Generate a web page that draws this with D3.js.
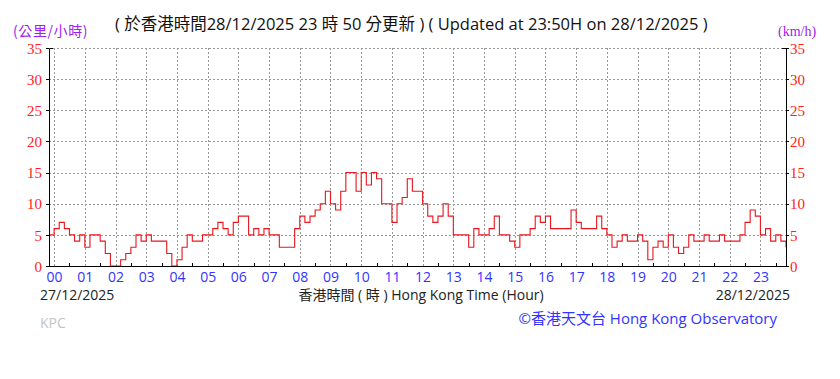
<!DOCTYPE html>
<html>
<head>
<meta charset="utf-8">
<script src="https://cdn.jsdelivr.net/npm/d3@7"></script>
<style>
  body { margin: 0; background: #fff; }
  svg { display: block; }
  .grid line { stroke: #999; stroke-dasharray: 2,2; shape-rendering: crispEdges; }
  .axis path, .axis line { stroke: #000; shape-rendering: crispEdges; }
  .yaxis text { fill: #ff2020; font-family: "Liberation Serif", serif; font-size: 15px; }
  .xaxis text { fill: #3333ff; font-family: "Open Sans", "Noto Sans", sans-serif; font-size: 14px; }
</style>
</head>
<body>
<div id="chart"></div>
<script>
// 10-minute mean wind speed (km/h), from 23:50 on 27/12 to 23:50 on 28/12
var windSpeed = [
  5, 6, 7, 6, 5, 4, 5, 3, 5, 5,
  4, 2, 0, 0, 1, 2, 3, 5, 4, 5,
  4, 4, 4, 2, 0, 1, 3, 5, 4, 4,
  5, 5, 6, 7, 6, 5, 7, 8, 8, 5,
  6, 5, 6, 5, 5, 3, 3, 3, 6, 8,
  7, 8, 9, 10, 12, 10, 9, 12, 15, 15,
  12, 15, 13, 15, 14, 10, 10, 7, 10, 11,
  14, 12, 12, 10, 8, 7, 8, 10, 8, 5,
  5, 5, 3, 6, 5, 5, 6, 8, 5, 5,
  4, 3, 5, 5, 6, 8, 7, 8, 6, 6,
  6, 6, 9, 7, 6, 6, 6, 8, 6, 5,
  3, 4, 5, 4, 4, 5, 4, 1, 3, 4,
  3, 5, 3, 2, 3, 5, 4, 4, 5, 4,
  4, 5, 4, 4, 4, 5, 7, 9, 8, 5,
  6, 4, 5, 4, 3
];
var hourLabels = ['00','01','02','03','04','05','06','07','08','09','10','11',
                  '12','13','14','15','16','17','18','19','20','21','22','23'];
var speedTicks = [0, 5, 10, 15, 20, 25, 30, 35];

var _width = 840, _height = 379;
var _plot = {left: 49, right: 786, top: 48, bottom: 266};

// minutes since 00:00 on 28/12, first reading at 23:50 the day before
var minutes = windSpeed.map(function (d, i) { return -10 + i * 10; });

var _x = d3.scaleLinear().domain([-10, 1430]).range([_plot.left, _plot.right]);
var _y = d3.scaleLinear().domain([0, 35]).range([_plot.bottom, _plot.top]);

var svg = d3.select('#chart').append('svg')
  .attr('width', _width)
  .attr('height', _height);

// gridlines
var grid = svg.append('g').attr('class', 'grid');
grid.selectAll('line.h')
  .data(speedTicks.slice(1))
  .enter().append('line')
    .attr('class', 'h')
    .attr('x1', _plot.left).attr('x2', _plot.right)
    .attr('y1', function (d) { return Math.round(_y(d)) + 0.5; })
    .attr('y2', function (d) { return Math.round(_y(d)) + 0.5; });
grid.selectAll('line.v')
  .data(hourLabels)
  .enter().append('line')
    .attr('class', 'v')
    .attr('x1', function (d, i) { return Math.round(_x(i * 60)) + 0.5; })
    .attr('x2', function (d, i) { return Math.round(_x(i * 60)) + 0.5; })
    .attr('y1', _plot.top).attr('y2', _plot.bottom);

// wind line
var line = d3.line()
  .x(function (d, i) { return _x(minutes[i]); })
  .y(function (d) { return _y(d); })
  .curve(d3.curveStepAfter);

svg.append('path')
  .datum(windSpeed)
  .attr('fill', 'none')
  .attr('stroke', '#e8161c')
  .attr('stroke-width', 1.1)
  .attr('d', line);

// axes
var yLeft = d3.axisLeft(_y).tickValues(speedTicks).tickSize(3).tickSizeOuter(0).tickPadding(4);
var yRight = d3.axisRight(_y).tickValues(speedTicks).tickSize(3).tickSizeOuter(0).tickPadding(1);
svg.append('g').attr('class', 'axis yaxis')
  .attr('transform', 'translate(' + _plot.left + ',0)')
  .call(yLeft);
svg.append('g').attr('class', 'axis yaxis')
  .attr('transform', 'translate(' + _plot.right + ',0)')
  .call(yRight);
svg.selectAll('.yaxis text').attr('dy', '0.35em');

var xAxis = d3.axisBottom(_x)
  .tickValues(hourLabels.map(function (d, i) { return i * 60; }))
  .tickFormat(function (d, i) { return hourLabels[i]; })
  .tickSize(0).tickSizeOuter(0).tickPadding(6);
svg.append('g').attr('class', 'axis xaxis')
  .attr('transform', 'translate(0,' + _plot.bottom + ')')
  .call(xAxis);

// half-hour minor ticks pointing up
svg.append('g').attr('class', 'axis')
  .selectAll('line')
  .data(hourLabels)
  .enter().append('line')
    .attr('x1', function (d, i) { return Math.round(_x(i * 60 + 30)) + 0.5; })
    .attr('x2', function (d, i) { return Math.round(_x(i * 60 + 30)) + 0.5; })
    .attr('y1', _plot.bottom).attr('y2', _plot.bottom - 3);

// inward corner ticks at the top of both axes
svg.append('path')
  .attr('d', 'M' + (_plot.left + 4) + ',' + (_plot.top + 0.5) + 'H' + (_plot.left + 0.5) +
             'M' + (_plot.right - 4) + ',' + (_plot.top + 0.5) + 'H' + (_plot.right + 0.5))
  .attr('stroke', '#000');

// texts
svg.append('text')
  .attr('x', 13).attr('y', 36)
  .attr('fill', '#a020f0')
  .style('font-family', '"Noto Sans CJK TC", sans-serif')
  .style('font-size', '14px')
  .style('letter-spacing', '0.6px')
  .text('(公里/小時)');

svg.append('text')
  .attr('x', 778).attr('y', 36)
  .attr('fill', '#a020f0')
  .style('font-family', '"Liberation Serif", serif')
  .style('font-size', '14px')
  .text('(km/h)');

svg.append('text')
  .attr('x', 115).attr('y', 30)
  .attr('fill', '#111')
  .style('font-family', '"Open Sans", "Noto Sans CJK TC", sans-serif')
  .style('font-size', '16.5px')
  .text('( 於香港時間28/12/2025 23 時 50 分更新 ) ( Updated at 23:50H on 28/12/2025 )');

var foot = { 'font-family': '"Open Sans", "Noto Sans CJK TC", sans-serif', 'font-size': '14px' };
svg.append('text')
  .attr('x', 40).attr('y', 300)
  .attr('fill', '#222')
  .style('font-family', foot['font-family']).style('font-size', foot['font-size'])
  .text('27/12/2025');
svg.append('text')
  .attr('x', 421).attr('y', 300)
  .attr('text-anchor', 'middle')
  .attr('fill', '#222')
  .style('font-family', foot['font-family']).style('font-size', foot['font-size'])
  .text('香港時間 ( 時 ) Hong Kong Time (Hour)');
svg.append('text')
  .attr('x', 790).attr('y', 300)
  .attr('text-anchor', 'end')
  .attr('fill', '#222')
  .style('font-family', foot['font-family']).style('font-size', foot['font-size'])
  .text('28/12/2025');
svg.append('text')
  .attr('x', 40).attr('y', 328)
  .attr('fill', '#c4c4c4')
  .style('font-family', foot['font-family']).style('font-size', foot['font-size'])
  .text('KPC');
svg.append('text')
  .attr('x', 777).attr('y', 324)
  .attr('text-anchor', 'end')
  .attr('fill', '#3333ff')
  .style('font-family', foot['font-family']).style('font-size', '15px')
  .text('©香港天文台 Hong Kong Observatory');
</script>
</body>
</html>
